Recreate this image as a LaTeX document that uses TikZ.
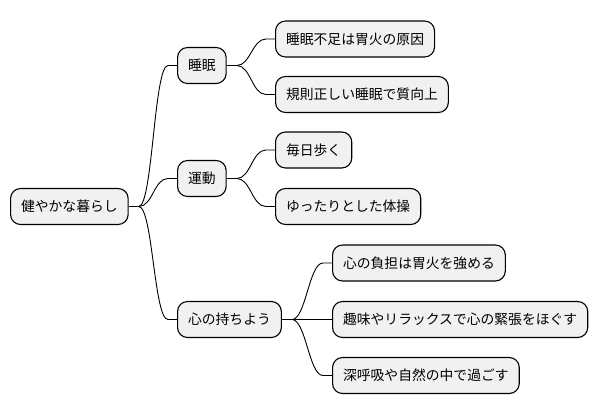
\documentclass[tikz,border=0pt]{standalone}
\usepackage{fontspec}
\setmainfont{Noto Sans CJK JP}
\definecolor{boxfill}{HTML}{F1F1F1}
\begin{document}
\begin{tikzpicture}[x=1pt,y=-1pt,
  box/.style={draw=black, line width=1.1pt, fill=boxfill, rounded corners=10pt,
    minimum height=36pt, inner xsep=10.5pt, inner ysep=0pt,
    font=\fontsize{13.8}{16}\selectfont, anchor=west},
  link/.style={line width=0.9pt, draw=black}]
\useasboundingbox (0,0) rectangle (600,415);
% nodes
\node[box] (root) at (10,206.5) {健やかな暮らし};
\node[box] (sm) at (177,65.5) {睡眠};
\node[box] (ud) at (177,178.5) {運動};
\node[box] (kk) at (177,319.5) {心の持ちよう};
\node[box] (sm1) at (275,39) {睡眠不足は胃火の原因};
\node[box] (sm2) at (275,94.5) {規則正しい睡眠で質向上};
\node[box] (ud1) at (275,150) {毎日歩く};
\node[box] (ud2) at (275,206.5) {ゆったりとした体操};
\node[box] (kk1) at (332,263) {心の負担は胃火を強める};
\node[box] (kk2) at (332,319.5) {趣味やリラックスで心の緊張をほぐす};
\node[box] (kk3) at (332,375.5) {深呼吸や自然の中で過ごす};
% junctions
\draw[link] (root.east) -- ++(10,0) coordinate (j0);
\draw[link] (sm.east) -- ++(10,0) coordinate (j1);
\draw[link] (ud.east) -- ++(10,0) coordinate (j2);
\draw[link] (kk.east) -- ++(10,0) coordinate (j3);
% connectors
\foreach \j/\c in {j0/sm, j0/ud, j0/kk, j1/sm1, j1/sm2, j2/ud1, j2/ud2, j3/kk1, j3/kk2, j3/kk3}{
  \draw[link] (\j) .. controls +(14,0) and +(-14,0) .. ([xshift=-9pt]\c.west) -- (\c.west);
}
\end{tikzpicture}
\end{document}
